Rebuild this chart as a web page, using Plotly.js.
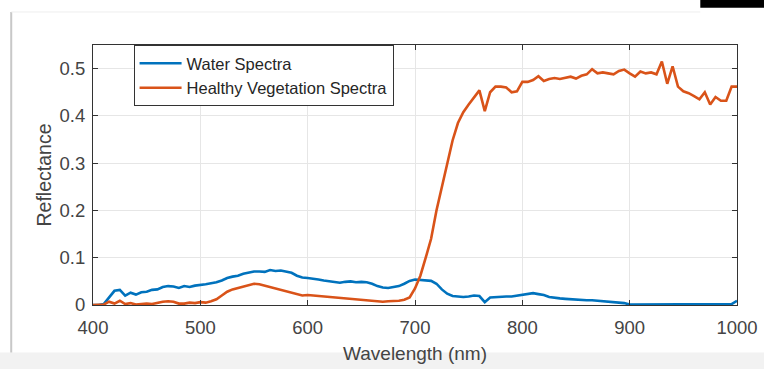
<!DOCTYPE html>
<html>
<head>
<meta charset="utf-8">
<script src="https://cdn.plot.ly/plotly-3.0.1.min.js"></script>
<style>
  html, body { margin: 0; padding: 0; background: #ffffff; }
  #chart { width: 764px; height: 369px; }
</style>
</head>
<body>
<div id="chart"></div>
<script>
// Wavelength grid (nm)
const wavelength = [];
for (let w = 400; w <= 1000; w += 5) wavelength.push(w);

const waterSpectra = [
  0, 0, 0.002, 0.015, 0.03, 0.032, 0.02, 0.026, 0.022, 0.027,
  0.028, 0.032, 0.033, 0.038, 0.04, 0.039, 0.036, 0.04, 0.038, 0.041,
  0.042, 0.044, 0.046, 0.048, 0.052, 0.057, 0.06, 0.062, 0.066, 0.069,
  0.071, 0.071, 0.07, 0.074, 0.072, 0.073, 0.071, 0.068, 0.062, 0.058,
  0.057, 0.056, 0.054, 0.052, 0.05, 0.049, 0.047, 0.049, 0.05, 0.048,
  0.049, 0.048, 0.045, 0.04, 0.037, 0.036, 0.038, 0.04, 0.045, 0.051,
  0.054, 0.053, 0.052, 0.051, 0.045, 0.033, 0.024, 0.019, 0.018, 0.017,
  0.018, 0.02, 0.019, 0.006, 0.016, 0.017, 0.017, 0.018, 0.018, 0.02,
  0.021, 0.023, 0.025, 0.023, 0.021, 0.017, 0.015, 0.014, 0.013, 0.012,
  0.011, 0.011, 0.01, 0.01, 0.009, 0.008, 0.008, 0.007, 0.006, 0.004,
  0.001, 0.001, 0.001, 0.001, 0.001, 0.001, 0.002, 0.001, 0.001, 0.001,
  0.001, 0.001, 0.001, 0.001, 0.001, 0.001, 0.001, 0.001, 0.001, 0.002,
  0.009
];

const vegetationSpectra = [
  0, 0, 0.001, 0.007, 0.003, 0.009, 0.002, 0.004, 0.001, 0.002,
  0.003, 0.002, 0.005, 0.007, 0.008, 0.007, 0.003, 0.003, 0.005, 0.004,
  0.006, 0.005, 0.008, 0.012, 0.02, 0.028, 0.033, 0.036, 0.039, 0.042,
  0.045, 0.044, 0.041, 0.038, 0.035, 0.031, 0.028, 0.025, 0.022, 0.02,
  0.021, 0.02, 0.019, 0.018, 0.017, 0.016, 0.015, 0.014, 0.013, 0.012,
  0.011, 0.01, 0.009, 0.008, 0.007, 0.008, 0.008, 0.009, 0.011, 0.016,
  0.035, 0.062, 0.1, 0.14, 0.2, 0.25, 0.3, 0.348, 0.385, 0.408,
  0.424, 0.438, 0.454, 0.41, 0.45, 0.462, 0.462, 0.46, 0.45, 0.452,
  0.472, 0.472, 0.476, 0.484, 0.474, 0.478, 0.48, 0.478, 0.481, 0.483,
  0.479, 0.485, 0.488, 0.499, 0.49, 0.492, 0.49, 0.488, 0.495, 0.498,
  0.49, 0.483, 0.494, 0.49, 0.492, 0.488, 0.515, 0.468, 0.505, 0.462,
  0.452, 0.448, 0.442, 0.435, 0.45, 0.424, 0.44, 0.432, 0.432, 0.462,
  0.462
];

const seriesNames = ['Water Spectra', 'Healthy Vegetation Spectra'];
const xTicks = [400, 500, 600, 700, 800, 900, 1000];
const yTicks = [0, 0.1, 0.2, 0.3, 0.4, 0.5];

const FONT = 'Liberation Sans, Arial, Helvetica, sans-serif';

const traces = [
  { x: wavelength, y: waterSpectra, name: seriesNames[0], type: 'scatter', mode: 'lines',
    line: { color: '#0072BD', width: 2.6 } },
  { x: wavelength, y: vegetationSpectra, name: seriesNames[1], type: 'scatter', mode: 'lines',
    line: { color: '#D95319', width: 2.6 } }
];

const axisCommon = {
  showline: true, linecolor: '#333333', linewidth: 1, mirror: 'ticks',
  ticks: 'inside', ticklen: 5, tickcolor: '#333333',
  showgrid: true, gridcolor: '#e6e6e6', gridwidth: 1, zeroline: false,
  tickfont: { family: FONT, size: 18.5, color: '#444444' }
};

const layout = {
  width: 764, height: 369,
  margin: { l: 93, r: 27, t: 45, b: 64 },
  paper_bgcolor: '#ffffff', plot_bgcolor: '#ffffff',
  showlegend: true,
  legend: {
    x: 0.063, y: 1, xanchor: 'left', yanchor: 'top',
    bgcolor: '#ffffff', bordercolor: '#333333', borderwidth: 1,
    font: { family: FONT, size: 16.5, color: '#262626' },
    itemwidth: 42,
    tracegroupgap: 0
  },
  xaxis: Object.assign({}, axisCommon, {
    range: [400, 1000], tickvals: xTicks, ticklabelstandoff: 6,
    title: { text: 'Wavelength (nm)', font: { family: FONT, size: 19, color: '#444444' }, standoff: 9 }
  }),
  yaxis: Object.assign({}, axisCommon, {
    range: [0, 0.55], tickvals: yTicks, ticklabelstandoff: 3,
    title: { text: 'Reflectance', font: { family: FONT, size: 19.5, color: '#444444' }, standoff: 2 }
  }),
  shapes: [
    { type: 'rect', xref: 'paper', yref: 'paper', layer: 'below',
      x0: -0.15, x1: 1.05, y0: -0.25, y1: -0.183,
      fillcolor: '#f2f2f2', line: { width: 0 } },
    { type: 'line', xref: 'paper', yref: 'paper', layer: 'below',
      x0: -0.127, x1: -0.127, y0: -0.183, y1: 1.127,
      line: { color: '#c8c8c8', width: 2 } },
    { type: 'line', xref: 'paper', yref: 'paper', layer: 'below',
      x0: -0.127, x1: 0.943, y0: 1.127, y1: 1.127,
      line: { color: '#eeeeee', width: 1 } },
    { type: 'rect', xref: 'paper', yref: 'paper', layer: 'below',
      x0: 0.943, x1: 1.05, y0: 1.143, y1: 1.2,
      fillcolor: '#000000', line: { width: 0 } }
  ]
};

Plotly.newPlot('chart', traces, layout, { displayModeBar: false, responsive: false, staticPlot: true });
</script>
</body>
</html>
